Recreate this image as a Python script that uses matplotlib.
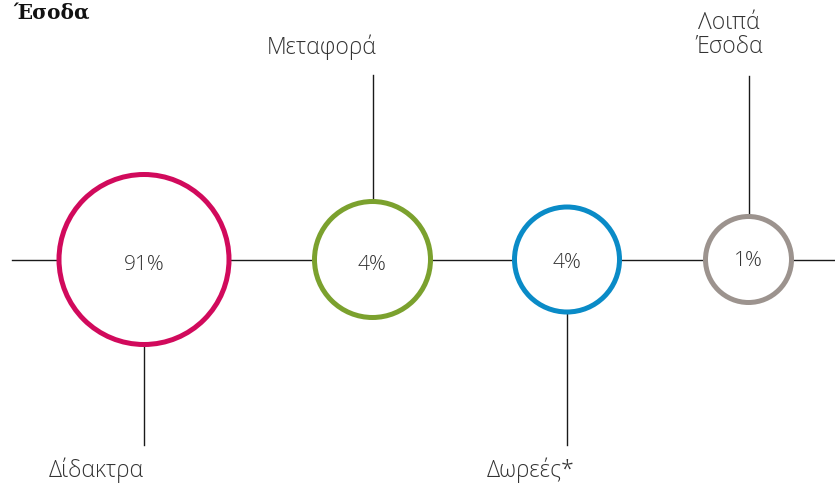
import matplotlib
matplotlib.use("Agg")
import matplotlib.pyplot as plt
from matplotlib.patches import Circle

# Data
categories = ["Δίδακτρα", "Μεταφορά", "Δωρεές*", "Λοιπά\nΈσοδα"]
values = [91, 4, 4, 1]
pct_labels = ["91%", "4%", "4%", "1%"]
title = "Έσοδα"

# Layout / style
colors = ["#D10A5C", "#7BA12E", "#0A8BC7", "#9C938E"]
cx = [144, 372.5, 567, 748.5]
cy = 259.5
radii = [85, 58, 52.5, 43]
label_dir = [1, -1, 1, -1]  # 1: below, -1: above
stem_end = [445, 75, 445, 76]
label_xy = [(96, 470), (322, 47), (531, 470), (729, 35)]
pct_dy = [5, 5, 3, 2]

W, H = 835, 484
fig = plt.figure(figsize=(W / 100, H / 100), dpi=100)
ax = fig.add_axes([0, 0, 1, 1])
ax.set_xlim(0, W)
ax.set_ylim(H, 0)
ax.set_aspect("equal")
ax.axis("off")

txt_font = ["Open Sans", "DejaVu Sans"]
txt_color = "#333333"

# horizontal axis line
ax.plot([12, W], [cy, cy], color="#1a1a1a", lw=1.0, zorder=1)

for i, cat in enumerate(categories):
    r = radii[i]
    ax.add_patch(Circle((cx[i], cy), r, facecolor="white", edgecolor=colors[i],
                        lw=3.6, zorder=2))
    y0 = cy + label_dir[i] * (r + 2)
    ax.plot([cx[i], cx[i]], [y0, stem_end[i]], color="#1a1a1a", lw=1.0, zorder=1)
    ax.text(cx[i], cy + pct_dy[i], pct_labels[i], ha="center", va="center", fontsize=15,
            family=txt_font, fontweight="light", color=txt_color, zorder=3)
    lx, ly = label_xy[i]
    ax.text(lx, ly, cat, ha="center", va="center", fontsize=16.5,
            family=txt_font, fontweight="light", color=txt_color,
            linespacing=1.0, zorder=3)

ax.text(13, 13, title, ha="left", va="center", fontsize=14.5,
        family=["DejaVu Serif"], fontweight="bold", color="#111111")

fig.savefig("out.png", dpi=100)
